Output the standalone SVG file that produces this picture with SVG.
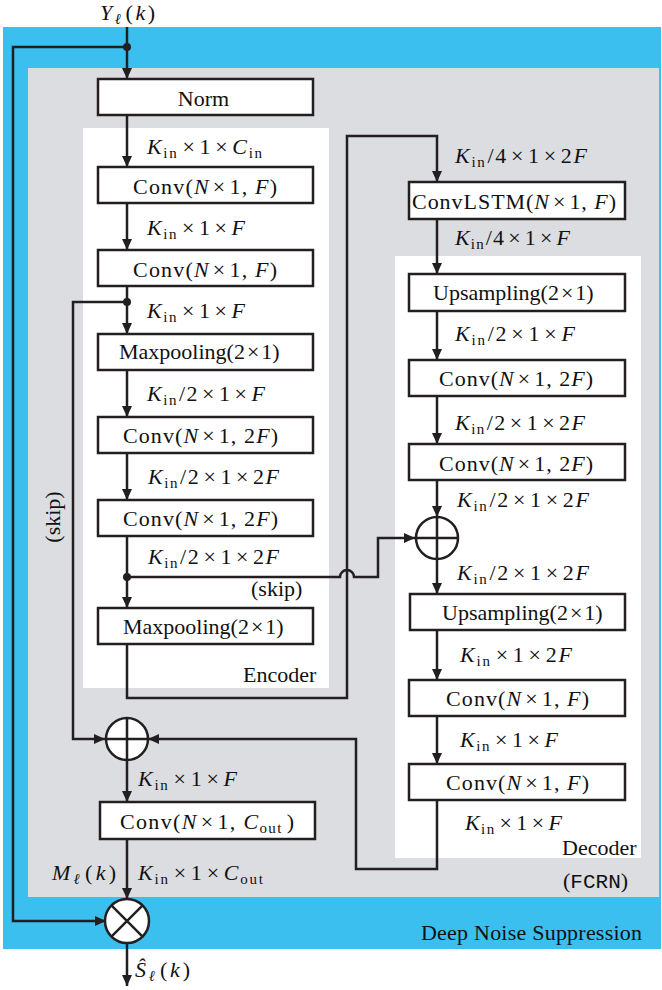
<svg xmlns="http://www.w3.org/2000/svg" width="662" height="990" viewBox="0 0 662 990">
<defs>
<style>
.bx{fill:#fff;stroke:#231f20;stroke-width:2.5}
.ln{fill:none;stroke:#231f20;stroke-width:2.5}
.t{font-family:"Liberation Serif",serif;font-size:22px;fill:#111}
.i{font-style:italic}
.s{font-size:15px}
.c{fill:#fff;stroke:#231f20;stroke-width:2.5}
</style>
<marker id="ah" markerUnits="userSpaceOnUse" markerWidth="12" markerHeight="10" refX="11" refY="5" orient="auto">
<path d="M0,0 L11,5 L0,10 Z" fill="#231f20"/>
</marker>
</defs>

<rect x="3" y="27" width="658" height="922" fill="#3bbfef"/>
<rect x="28" y="68" width="631" height="829" fill="#dcdde0"/>
<rect x="83" y="128" width="246" height="560" fill="#fff"/>
<rect x="395" y="256" width="246" height="602" fill="#fff"/>

<g id="connectors">
<path class="ln" d="M127,27 V79" marker-end="url(#ah)"/>
<path class="ln" d="M127,47 H13 V921 H106" marker-end="url(#ah)"/>
<path class="ln" d="M127,115 V167" marker-end="url(#ah)"/>
<path class="ln" d="M127,203 V250" marker-end="url(#ah)"/>
<path class="ln" d="M127,286 V334" marker-end="url(#ah)"/>
<path class="ln" d="M127,302 H73 V739 H105" marker-end="url(#ah)"/>
<path class="ln" d="M127,370 V417" marker-end="url(#ah)"/>
<path class="ln" d="M127,453 V500" marker-end="url(#ah)"/>
<path class="ln" d="M127,536 V608" marker-end="url(#ah)"/>
<path class="ln" d="M127,577 H340 A7,7 0 0 1 354,577 H378 V538 H415" marker-end="url(#ah)"/>
<path class="ln" d="M127,644 V698 H347 V136 H437 V182" marker-end="url(#ah)"/>
<path class="ln" d="M437,219 V274" marker-end="url(#ah)"/>
<path class="ln" d="M437,311 V360" marker-end="url(#ah)"/>
<path class="ln" d="M437,396 V444" marker-end="url(#ah)"/>
<path class="ln" d="M437,480 V517" marker-end="url(#ah)"/>
<path class="ln" d="M437,559 V594" marker-end="url(#ah)"/>
<path class="ln" d="M437,630 V680" marker-end="url(#ah)"/>
<path class="ln" d="M437,716 V764" marker-end="url(#ah)"/>
<path class="ln" d="M437,800 V869 H356 V739 H148" marker-end="url(#ah)"/>
<path class="ln" d="M127,760 V802" marker-end="url(#ah)"/>
<path class="ln" d="M127,839 V899" marker-end="url(#ah)"/>
<path class="ln" d="M127,943 V986" marker-end="url(#ah)"/>
<circle cx="127" cy="47" r="4" fill="#231f20"/>
<circle cx="127" cy="302" r="4" fill="#231f20"/>
<circle cx="127" cy="577" r="4" fill="#231f20"/>
</g>

<g id="norm"><rect class="bx" x="98" y="79" width="215" height="36"/>
<text class="t" x="203.5" y="106" text-anchor="middle">Norm</text></g>

<g id="enc-conv1"><rect class="bx" x="98" y="167" width="215" height="36"/>
<text class="t" x="133" y="194" textLength="144">Conv(<tspan class="i">N</tspan><tspan dx="3">×</tspan><tspan dx="3">1,</tspan> <tspan class="i">F</tspan>)</text></g>

<g id="enc-conv2"><rect class="bx" x="98" y="250" width="215" height="36"/>
<text class="t" x="133" y="277" textLength="144">Conv(<tspan class="i">N</tspan><tspan dx="3">×</tspan><tspan dx="3">1,</tspan> <tspan class="i">F</tspan>)</text></g>

<g id="enc-pool1"><rect class="bx" x="98" y="334" width="215" height="36"/>
<text class="t" x="119" y="359">Maxpooling(2<tspan dx="2">×</tspan><tspan dx="2">1)</tspan></text></g>

<g id="enc-conv3"><rect class="bx" x="98" y="417" width="215" height="36"/>
<text class="t" x="123" y="443" textLength="155">Conv(<tspan class="i">N</tspan><tspan dx="3">×</tspan><tspan dx="3">1,</tspan> 2<tspan class="i">F</tspan>)</text></g>

<g id="enc-conv4"><rect class="bx" x="98" y="500" width="215" height="36"/>
<text class="t" x="123" y="526" textLength="155">Conv(<tspan class="i">N</tspan><tspan dx="3">×</tspan><tspan dx="3">1,</tspan> 2<tspan class="i">F</tspan>)</text></g>

<g id="enc-pool2"><rect class="bx" x="98" y="608" width="215" height="36"/>
<text class="t" x="123" y="634">Maxpooling(2<tspan dx="2">×</tspan><tspan dx="2">1)</tspan></text></g>

<g id="convlstm"><rect class="bx" x="409" y="182" width="216" height="37"/>
<text class="t" x="412" y="209" textLength="204">ConvLSTM(<tspan class="i">N</tspan><tspan dx="3">×</tspan><tspan dx="3">1,</tspan> <tspan class="i">F</tspan>)</text></g>

<g id="dec-up1"><rect class="bx" x="409" y="274" width="216" height="37"/>
<text class="t" x="433" y="300">Upsampling(2<tspan dx="2">×</tspan><tspan dx="2">1)</tspan></text></g>

<g id="dec-conv1"><rect class="bx" x="409" y="360" width="216" height="36"/>
<text class="t" x="439" y="386" textLength="154">Conv(<tspan class="i">N</tspan><tspan dx="3">×</tspan><tspan dx="3">1,</tspan> 2<tspan class="i">F</tspan>)</text></g>

<g id="dec-conv2"><rect class="bx" x="409" y="444" width="216" height="36"/>
<text class="t" x="439" y="471" textLength="154">Conv(<tspan class="i">N</tspan><tspan dx="3">×</tspan><tspan dx="3">1,</tspan> 2<tspan class="i">F</tspan>)</text></g>

<g id="dec-add">
<circle class="c" cx="437" cy="538" r="21"/>
<path class="ln" d="M416,538 H458 M437,517 V559"/></g>

<g id="dec-up2"><rect class="bx" x="410" y="594" width="215" height="36"/>
<text class="t" x="442" y="620">Upsampling(2<tspan dx="2">×</tspan><tspan dx="2">1)</tspan></text></g>

<g id="dec-conv3"><rect class="bx" x="409" y="680" width="216" height="36"/>
<text class="t" x="446" y="706" textLength="143">Conv(<tspan class="i">N</tspan><tspan dx="3">×</tspan><tspan dx="3">1,</tspan> <tspan class="i">F</tspan>)</text></g>

<g id="dec-conv4"><rect class="bx" x="409" y="764" width="216" height="36"/>
<text class="t" x="446" y="790" textLength="143">Conv(<tspan class="i">N</tspan><tspan dx="3">×</tspan><tspan dx="3">1,</tspan> <tspan class="i">F</tspan>)</text></g>

<g id="skip-add">
<circle class="c" cx="127" cy="739" r="21"/>
<path class="ln" d="M106,739 H148 M127,718 V760"/></g>

<g id="conv-out"><rect class="bx" x="100" y="802" width="215" height="37"/>
<text class="t" x="120" y="829" textLength="174">Conv(<tspan class="i">N</tspan><tspan dx="3">×</tspan><tspan dx="3">1,</tspan> <tspan class="i">C</tspan><tspan class="s" dy="4">out</tspan><tspan dy="-4" dx="4">)</tspan></text></g>

<g id="multiply">
<circle class="c" cx="127" cy="921" r="22"/>
<path class="ln" d="M111.4,905.4 L142.6,936.6 M142.6,905.4 L111.4,936.6"/></g>

<g id="labels">
<text class="t" x="100" y="20" textLength="55"><tspan class="i">Y</tspan><tspan class="s i" dy="4">ℓ</tspan><tspan dy="-4" dx="2">(</tspan><tspan class="i">k</tspan>)</text>

<text class="t" x="147" y="154" textLength="115"><tspan class="i">K</tspan><tspan class="s" dy="4">in</tspan><tspan dy="-4" dx="4">×</tspan><tspan dx="3">1</tspan><tspan dx="3">×</tspan><tspan class="i" dx="3">C</tspan><tspan class="s" dy="4">in</tspan></text>
<text class="t" x="147" y="235" textLength="98"><tspan class="i">K</tspan><tspan class="s" dy="4">in</tspan><tspan dy="-4" dx="4">×</tspan><tspan dx="3">1</tspan><tspan dx="3">×</tspan><tspan class="i" dx="3">F</tspan></text>
<text class="t" x="147" y="318" textLength="98"><tspan class="i">K</tspan><tspan class="s" dy="4">in</tspan><tspan dy="-4" dx="4">×</tspan><tspan dx="3">1</tspan><tspan dx="3">×</tspan><tspan class="i" dx="3">F</tspan></text>
<text class="t" x="147" y="401" textLength="118"><tspan class="i">K</tspan><tspan class="s" dy="4">in</tspan><tspan dy="-4" dx="1">/2</tspan><tspan dx="3">×</tspan><tspan dx="3">1</tspan><tspan dx="3">×</tspan><tspan class="i" dx="3">F</tspan></text>
<text class="t" x="148" y="484" textLength="131"><tspan class="i">K</tspan><tspan class="s" dy="4">in</tspan><tspan dy="-4" dx="1">/2</tspan><tspan dx="3">×</tspan><tspan dx="3">1</tspan><tspan dx="3">×</tspan><tspan dx="3">2</tspan><tspan class="i">F</tspan></text>
<text class="t" x="148" y="564" textLength="131"><tspan class="i">K</tspan><tspan class="s" dy="4">in</tspan><tspan dy="-4" dx="1">/2</tspan><tspan dx="3">×</tspan><tspan dx="3">1</tspan><tspan dx="3">×</tspan><tspan dx="3">2</tspan><tspan class="i">F</tspan></text>
<text class="t" x="251" y="596">(skip)</text>
<text class="t" transform="translate(60,517) rotate(-90)" text-anchor="middle" x="0" y="0">(skip)</text>
<text class="t" x="243" y="682">Encoder</text>

<text class="t" x="455" y="163" textLength="132"><tspan class="i">K</tspan><tspan class="s" dy="4">in</tspan><tspan dy="-4" dx="1">/4</tspan><tspan dx="3">×</tspan><tspan dx="3">1</tspan><tspan dx="3">×</tspan><tspan dx="3">2</tspan><tspan class="i">F</tspan></text>
<text class="t" x="455" y="245" textLength="115"><tspan class="i">K</tspan><tspan class="s" dy="4">in</tspan><tspan dy="-4" dx="1">/4</tspan><tspan dx="3">×</tspan><tspan dx="3">1</tspan><tspan dx="3">×</tspan><tspan class="i" dx="3">F</tspan></text>
<text class="t" x="455" y="341" textLength="120"><tspan class="i">K</tspan><tspan class="s" dy="4">in</tspan><tspan dy="-4" dx="1">/2</tspan><tspan dx="3">×</tspan><tspan dx="3">1</tspan><tspan dx="3">×</tspan><tspan class="i" dx="3">F</tspan></text>
<text class="t" x="455" y="430" textLength="130"><tspan class="i">K</tspan><tspan class="s" dy="4">in</tspan><tspan dy="-4" dx="1">/2</tspan><tspan dx="3">×</tspan><tspan dx="3">1</tspan><tspan dx="3">×</tspan><tspan dx="3">2</tspan><tspan class="i">F</tspan></text>
<text class="t" x="457" y="507" textLength="132"><tspan class="i">K</tspan><tspan class="s" dy="4">in</tspan><tspan dy="-4" dx="1">/2</tspan><tspan dx="3">×</tspan><tspan dx="3">1</tspan><tspan dx="3">×</tspan><tspan dx="3">2</tspan><tspan class="i">F</tspan></text>
<text class="t" x="457" y="580" textLength="132"><tspan class="i">K</tspan><tspan class="s" dy="4">in</tspan><tspan dy="-4" dx="1">/2</tspan><tspan dx="3">×</tspan><tspan dx="3">1</tspan><tspan dx="3">×</tspan><tspan dx="3">2</tspan><tspan class="i">F</tspan></text>
<text class="t" x="460" y="662" textLength="112"><tspan class="i">K</tspan><tspan class="s" dy="4">in</tspan><tspan dy="-4" dx="4">×</tspan><tspan dx="3">1</tspan><tspan dx="3">×</tspan><tspan dx="3">2</tspan><tspan class="i">F</tspan></text>
<text class="t" x="460" y="747" textLength="98"><tspan class="i">K</tspan><tspan class="s" dy="4">in</tspan><tspan dy="-4" dx="4">×</tspan><tspan dx="3">1</tspan><tspan dx="3">×</tspan><tspan class="i" dx="3">F</tspan></text>
<text class="t" x="465" y="830" textLength="97"><tspan class="i">K</tspan><tspan class="s" dy="4">in</tspan><tspan dy="-4" dx="4">×</tspan><tspan dx="3">1</tspan><tspan dx="3">×</tspan><tspan class="i" dx="3">F</tspan></text>
<text class="t" x="562" y="855">Decoder</text>

<text class="t" x="138" y="786" textLength="99"><tspan class="i">K</tspan><tspan class="s" dy="4">in</tspan><tspan dy="-4" dx="4">×</tspan><tspan dx="3">1</tspan><tspan dx="3">×</tspan><tspan class="i" dx="3">F</tspan></text>
<text class="t" x="138" y="880" textLength="125"><tspan class="i">K</tspan><tspan class="s" dy="4">in</tspan><tspan dy="-4" dx="4">×</tspan><tspan dx="3">1</tspan><tspan dx="3">×</tspan><tspan class="i" dx="3">C</tspan><tspan class="s" dy="4">out</tspan></text>
<text class="t" x="52" y="880" textLength="64"><tspan class="i">M</tspan><tspan class="s i" dy="4">ℓ</tspan><tspan dy="-4" dx="2">(</tspan><tspan class="i">k</tspan>)</text>
<text class="t" x="135" y="977" textLength="55"><tspan class="i">Ŝ</tspan><tspan class="s i" dy="4">ℓ</tspan><tspan dy="-4" dx="2">(</tspan><tspan class="i">k</tspan>)</text>

<text class="t" x="563" y="888">(<tspan font-family="Liberation Mono,monospace" font-size="21">FCRN</tspan>)</text>
<text class="t" x="421" y="940" textLength="221">Deep Noise Suppression</text>
</g>
</svg>
